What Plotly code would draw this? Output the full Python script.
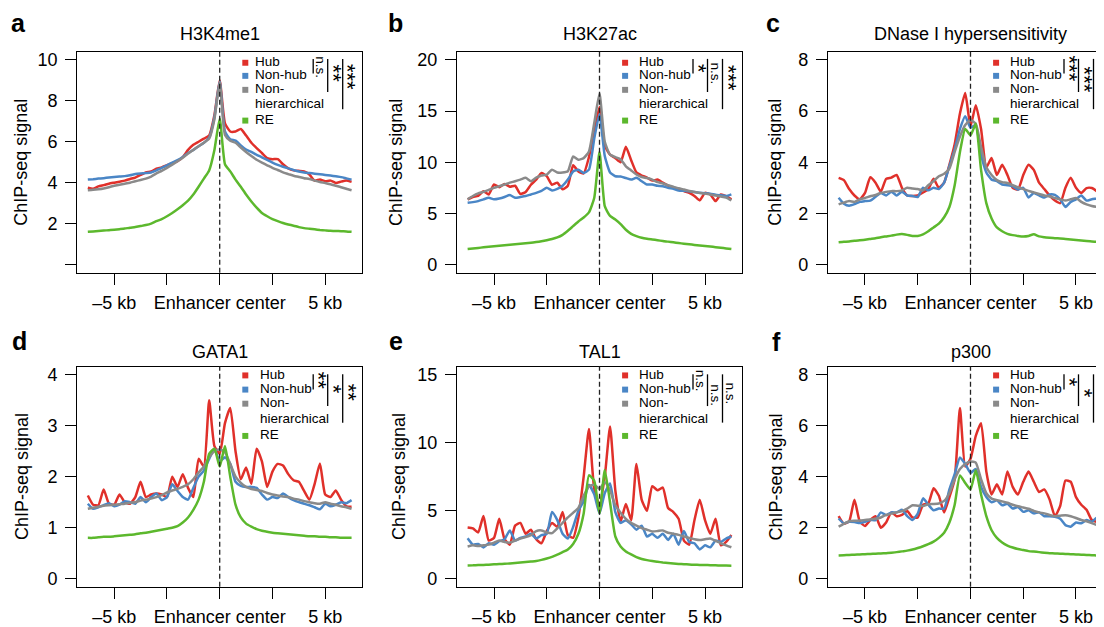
import plotly.graph_objects as go

# page is 1104x627; the html body keeps a default 8px margin, so the figure is drawn 8px in
PAGE_W, PAGE_H = 1104, 627
OFF = 8
W, H = PAGE_W - OFF, PAGE_H - OFF

# ---------------- data ----------------
x_kb = [-6.25, -6.0, -5.75, -5.5, -5.25, -5.0, -4.75, -4.5, -4.25, -4.0,
        -3.75, -3.5, -3.25, -3.0, -2.75, -2.5, -2.25, -2.0, -1.75, -1.5,
        -1.25, -1.0, -0.75, -0.5, -0.25, 0.0, 0.25, 0.5, 0.75, 1.0,
        1.25, 1.5, 1.75, 2.0, 2.25, 2.5, 2.75, 3.0, 3.25, 3.5,
        3.75, 4.0, 4.25, 4.5, 4.75, 5.0, 5.25, 5.5, 5.75, 6.0, 6.25]

series_names = ["Hub", "Non-hub", "Non-hierarchical", "RE"]

# a: H3K4me1
h3k4me1_hub = [3.75, 3.70, 3.82, 3.88, 3.95, 4.00, 4.05, 4.10, 4.18, 4.25, 4.38, 4.50, 4.55, 4.68, 4.75, 4.85, 4.95, 5.05, 5.25, 5.60, 5.85, 6.00, 6.15, 6.30, 7.30,
               9.00,
               6.90, 6.50, 6.50, 6.62, 6.30, 5.95, 5.69, 5.45, 5.20, 5.15, 5.15, 4.90, 4.70, 4.60, 4.58, 4.55, 4.40, 4.10, 4.15, 4.07, 4.10, 3.99, 4.05, 4.10, 4.04]
h3k4me1_nonhub = [4.15, 4.17, 4.20, 4.22, 4.25, 4.28, 4.30, 4.32, 4.36, 4.42, 4.45, 4.47, 4.50, 4.60, 4.72, 4.85, 4.98, 5.10, 5.25, 5.45, 5.60, 5.78, 5.95, 6.20, 7.20,
                  8.95,
                  6.50, 6.12, 6.05, 5.82, 5.62, 5.50, 5.36, 5.24, 5.11, 4.98, 4.87, 4.78, 4.70, 4.62, 4.55, 4.50, 4.47, 4.44, 4.41, 4.38, 4.35, 4.31, 4.27, 4.21, 4.15]
h3k4me1_nonhier = [3.63, 3.65, 3.68, 3.72, 3.78, 3.85, 3.90, 3.95, 4.00, 4.07, 4.13, 4.20, 4.30, 4.45, 4.58, 4.72, 4.88, 5.05, 5.22, 5.42, 5.60, 5.78, 5.95, 6.15, 7.10,
                   8.90,
                   6.33, 6.05, 5.95, 5.72, 5.50, 5.30, 5.12, 4.98, 4.85, 4.72, 4.62, 4.50, 4.42, 4.34, 4.28, 4.22, 4.18, 4.10, 4.03, 3.98, 3.92, 3.85, 3.78, 3.70, 3.63]
h3k4me1_re = [1.60, 1.62, 1.64, 1.66, 1.68, 1.70, 1.73, 1.76, 1.80, 1.83, 1.88, 1.93, 2.00, 2.12, 2.22, 2.36, 2.52, 2.70, 2.90, 3.12, 3.42, 3.80, 4.20, 4.60, 5.60,
              7.14,
              4.90, 4.55, 4.15, 3.80, 3.42, 3.08, 2.78, 2.52, 2.36, 2.22, 2.12, 2.03, 1.96, 1.90, 1.83, 1.78, 1.75, 1.72, 1.69, 1.67, 1.65, 1.64, 1.63, 1.62, 1.60]

# b: H3K27ac
h3k27ac_hub = [6.37, 6.60, 6.70, 7.17, 6.85, 7.82, 7.56, 7.88, 7.60, 7.70, 6.90, 7.10, 7.80, 8.30, 8.95, 8.63, 7.80, 8.00, 7.35, 7.70, 9.70, 9.10, 8.90, 10.50, 13.00,
               15.40,
               11.60, 10.73, 10.40, 10.00, 11.50, 10.20, 9.00, 8.70, 8.50, 8.20, 8.30, 8.00, 7.70, 7.50, 7.33, 7.17, 7.01, 6.70, 6.27, 7.01, 6.85, 6.20, 6.85, 6.69, 6.37]
h3k27ac_nonhub = [6.04, 6.10, 6.20, 6.37, 6.53, 6.37, 6.45, 6.60, 6.79, 6.53, 6.60, 6.69, 6.85, 7.01, 7.20, 7.50, 7.24, 7.40, 7.70, 8.30, 9.10, 9.27, 8.95, 9.27, 12.30,
                  14.70,
                  10.60, 9.00, 8.63, 8.60, 8.45, 8.30, 8.47, 8.14, 7.82, 7.82, 7.70, 7.66, 7.50, 7.40, 7.24, 7.20, 7.17, 7.08, 7.01, 6.96, 6.91, 6.82, 6.76, 6.69, 6.85]
h3k27ac_nonhier = [6.37, 6.70, 6.95, 7.10, 7.30, 7.50, 7.65, 7.82, 8.00, 8.14, 8.30, 8.47, 8.14, 8.50, 8.70, 8.79, 9.27, 9.00, 9.00, 9.11, 10.57, 10.24, 10.40, 11.05, 13.80,
                   16.70,
                   12.00, 10.73, 10.50, 10.30, 9.60, 9.20, 8.80, 8.55, 8.45, 8.30, 8.05, 7.92, 7.75, 7.60, 7.45, 7.33, 7.20, 7.08, 7.00, 6.93, 6.85, 6.75, 6.65, 6.55, 6.27]
h3k27ac_re = [1.52, 1.58, 1.63, 1.68, 1.73, 1.78, 1.83, 1.88, 1.93, 1.98, 2.03, 2.08, 2.13, 2.20, 2.28, 2.38, 2.50, 2.65, 2.90, 3.30, 3.75, 4.20, 4.60, 5.10, 6.50,
              11.00,
              5.70, 4.75, 4.40, 3.95, 3.40, 3.00, 2.78, 2.62, 2.52, 2.45, 2.38, 2.30, 2.24, 2.17, 2.10, 2.04, 1.98, 1.92, 1.87, 1.82, 1.76, 1.70, 1.64, 1.58, 1.52]

# c: DNase I hypersensitivity
dnase_hub = [3.39, 3.30, 2.95, 2.70, 2.55, 2.80, 3.41, 3.20, 2.85, 3.35, 3.40, 3.50, 3.00, 2.70, 2.68, 2.70, 2.82, 2.95, 3.35, 3.00, 3.20, 3.90, 4.70, 5.90, 6.70,
             5.40,
             6.23, 5.30, 3.80, 4.16, 3.50, 3.90, 3.50, 3.00, 2.93, 3.50, 3.90, 3.70, 3.20, 2.95, 2.70, 2.50, 2.40, 3.00, 3.39, 3.00, 2.80, 2.99, 2.99, 2.85, 2.62]
dnase_nonhub = [2.61, 2.38, 2.30, 2.36, 2.45, 2.48, 2.50, 2.65, 2.80, 2.70, 2.85, 2.70, 2.85, 2.70, 2.68, 2.64, 3.00, 2.90, 3.00, 2.95, 3.20, 3.85, 4.50, 5.30, 5.80,
                5.35,
                5.45, 4.30, 3.60, 3.32, 3.26, 3.13, 3.10, 3.06, 2.93, 3.00, 2.62, 2.80, 2.70, 2.62, 2.74, 2.72, 2.55, 2.25, 2.45, 2.55, 2.70, 2.50, 2.55, 2.58, 2.62]
dnase_nonhier = [2.35, 2.42, 2.48, 2.45, 2.55, 2.60, 2.67, 2.72, 2.80, 2.84, 2.87, 2.87, 2.90, 3.00, 2.97, 2.95, 2.90, 3.10, 3.26, 3.45, 3.55, 3.75, 4.40, 5.00, 5.45,
                 5.65,
                 5.50, 4.60, 3.80, 3.50, 3.30, 3.22, 3.19, 3.10, 3.02, 2.95, 2.88, 2.82, 2.76, 2.70, 2.66, 2.60, 2.55, 2.50, 2.55, 2.60, 2.45, 2.35, 2.29, 2.25, 2.22]
dnase_re = [0.87, 0.89, 0.90, 0.93, 0.95, 0.97, 1.00, 1.03, 1.07, 1.10, 1.13, 1.17, 1.19, 1.16, 1.12, 1.12, 1.18, 1.30, 1.45, 1.60, 1.85, 2.25, 3.10, 4.40, 5.30,
            5.05,
            5.50, 3.70, 2.40, 1.80, 1.45, 1.30, 1.20, 1.15, 1.12, 1.10, 1.12, 1.18, 1.10, 1.07, 1.05, 1.03, 1.02, 1.00, 0.98, 0.96, 0.94, 0.92, 0.90, 0.89, 0.88]

# d: GATA1
gata1_hub = [1.63, 1.45, 1.44, 1.75, 1.47, 1.45, 1.65, 1.50, 1.47, 1.60, 1.90, 1.60, 1.65, 1.67, 1.65, 1.60, 2.00, 1.80, 2.05, 1.78, 1.60, 2.35, 2.20, 3.50, 2.60,
             2.45,
             3.05, 3.35, 2.50, 1.95, 2.18, 1.86, 2.55, 2.30, 1.80, 2.10, 2.25, 2.22, 2.05, 1.93, 1.90, 1.72, 1.55, 1.86, 2.26, 1.65, 1.60, 1.73, 1.55, 1.42, 1.41]
gata1_nonhub = [1.47, 1.37, 1.40, 1.44, 1.48, 1.42, 1.45, 1.52, 1.50, 1.47, 1.60, 1.50, 1.60, 1.67, 1.54, 1.60, 1.85, 1.72, 1.60, 1.55, 1.78, 2.00, 2.12, 2.35, 2.55,
                2.30,
                2.38, 2.25, 1.90, 1.82, 1.80, 1.80, 1.78, 1.65, 1.55, 1.60, 1.58, 1.67, 1.60, 1.54, 1.50, 1.47, 1.44, 1.40, 1.36, 1.47, 1.42, 1.45, 1.50, 1.48, 1.54]
gata1_nonhier = [1.37, 1.39, 1.41, 1.43, 1.44, 1.45, 1.46, 1.47, 1.49, 1.50, 1.53, 1.55, 1.57, 1.60, 1.64, 1.69, 1.73, 1.76, 1.80, 1.85, 1.95, 2.08, 2.20, 2.38, 2.50,
                 2.54,
                 2.48, 2.25, 2.00, 1.88, 1.80, 1.76, 1.74, 1.72, 1.68, 1.65, 1.63, 1.61, 1.60, 1.57, 1.55, 1.52, 1.50, 1.48, 1.47, 1.50, 1.47, 1.45, 1.42, 1.40, 1.37]
gata1_re = [0.80, 0.80, 0.81, 0.82, 0.82, 0.83, 0.84, 0.85, 0.86, 0.87, 0.89, 0.90, 0.92, 0.94, 0.96, 0.98, 1.00, 1.03, 1.10, 1.20, 1.35, 1.55, 1.90, 2.45, 2.55,
            2.20,
            2.60, 2.00, 1.45, 1.20, 1.08, 1.02, 0.97, 0.94, 0.92, 0.90, 0.89, 0.88, 0.87, 0.86, 0.85, 0.84, 0.83, 0.83, 0.82, 0.82, 0.81, 0.81, 0.80, 0.80, 0.80]

# e: TAL1
tal1_hub = [3.77, 3.70, 3.40, 4.60, 2.80, 3.00, 4.40, 2.90, 2.50, 3.90, 4.10, 3.30, 3.60, 2.90, 2.60, 3.50, 4.10, 3.80, 4.90, 3.20, 3.00, 4.50, 7.50, 11.00, 6.60,
            5.40,
            7.50, 11.20, 6.50, 4.20, 5.50, 4.30, 8.44, 5.80, 5.00, 6.80, 6.50, 6.70, 5.20, 4.90, 4.40, 2.80, 2.50, 4.30, 5.80, 4.30, 3.30, 4.40, 2.45, 2.70, 3.21]
tal1_nonhub = [2.97, 2.50, 2.55, 2.30, 2.60, 2.50, 2.75, 2.90, 3.55, 2.80, 3.00, 3.10, 3.30, 2.95, 3.20, 3.30, 4.90, 4.30, 3.30, 2.95, 3.80, 5.00, 5.70, 6.90, 6.20,
               4.80,
               6.30, 7.00, 4.90, 4.10, 4.30, 4.00, 3.60, 3.90, 3.10, 3.30, 3.00, 3.30, 2.85, 3.30, 2.50, 3.50, 2.70, 2.60, 2.15, 2.45, 2.30, 2.80, 2.70, 2.95, 3.10]
tal1_nonhier = [2.36, 2.45, 2.40, 2.45, 2.50, 2.65, 2.80, 2.70, 2.65, 2.80, 2.95, 3.05, 3.20, 3.50, 3.55, 3.40, 3.35, 3.70, 4.10, 4.50, 4.85, 5.20, 6.10, 6.80, 6.90,
                6.60,
                7.10, 6.50, 5.40, 4.85, 4.40, 4.10, 3.90, 3.72, 3.60, 3.47, 3.50, 3.55, 3.38, 3.30, 3.22, 3.10, 3.00, 2.90, 2.84, 2.90, 2.95, 2.78, 2.60, 2.45, 2.31]
tal1_re = [0.97, 0.98, 1.00, 1.01, 1.03, 1.05, 1.07, 1.09, 1.12, 1.15, 1.18, 1.22, 1.26, 1.30, 1.38, 1.48, 1.60, 1.76, 1.95, 2.15, 2.55, 3.30, 4.80, 7.60, 7.20,
           4.80,
           8.00, 5.60, 3.10, 2.36, 2.00, 1.78, 1.58, 1.45, 1.36, 1.29, 1.24, 1.19, 1.15, 1.11, 1.08, 1.06, 1.04, 1.02, 1.01, 1.00, 0.99, 0.98, 0.97, 0.96, 0.95]

# f: p300
p300_hub = [2.45, 2.15, 2.25, 3.10, 2.25, 2.07, 2.30, 2.45, 2.00, 2.20, 2.60, 2.45, 2.50, 2.65, 2.40, 2.40, 2.90, 2.95, 3.55, 3.25, 2.60, 3.20, 3.90, 6.70, 4.40,
            4.70,
            5.60, 6.10, 4.20, 3.30, 3.70, 3.30, 4.20, 3.60, 3.30, 3.80, 4.20, 3.80, 3.40, 3.50, 3.10, 2.45, 2.85, 3.85, 3.80, 3.20, 2.90, 2.70, 2.30, 2.23, 2.23]
p300_nonhub = [2.36, 2.17, 2.23, 2.22, 2.18, 2.23, 2.30, 2.30, 2.60, 2.49, 2.60, 2.60, 2.70, 2.45, 2.30, 2.55, 3.15, 2.90, 2.68, 2.75, 2.75, 3.50, 4.10, 4.75, 4.50,
               4.15,
               4.30, 3.60, 3.20, 3.00, 3.07, 2.88, 2.94, 2.75, 2.81, 2.62, 2.68, 2.56, 2.60, 2.45, 2.45, 2.43, 2.35, 2.10, 2.04, 2.20, 2.17, 2.30, 2.23, 2.40, 2.30]
p300_nonhier = [2.04, 2.15, 2.25, 2.27, 2.28, 2.30, 2.32, 2.35, 2.40, 2.50, 2.55, 2.60, 2.65, 2.75, 2.88, 2.86, 2.85, 2.92, 2.93, 2.95, 3.05, 3.35, 3.90, 4.30, 4.50,
                4.60,
                4.55, 3.90, 3.35, 3.14, 3.08, 3.03, 2.98, 2.90, 2.84, 2.79, 2.74, 2.66, 2.60, 2.56, 2.50, 2.45, 2.47, 2.49, 2.45, 2.38, 2.30, 2.25, 2.18, 2.10, 2.10]
p300_re = [0.91, 0.92, 0.93, 0.94, 0.95, 0.96, 0.97, 0.98, 0.99, 1.00, 1.02, 1.04, 1.07, 1.10, 1.14, 1.20, 1.27, 1.35, 1.45, 1.60, 1.80, 2.20, 2.90, 4.05, 3.75,
           3.50,
           4.25, 3.30, 2.45, 1.90, 1.60, 1.42, 1.30, 1.22, 1.16, 1.12, 1.08, 1.06, 1.04, 1.02, 1.00, 0.99, 0.98, 0.97, 0.96, 0.95, 0.94, 0.93, 0.92, 0.91, 0.89]

panel_letters = ["a", "b", "c", "d", "e", "f"]
panel_titles = ["H3K4me1", "H3K27ac", "DNase I hypersensitivity", "GATA1", "TAL1", "p300"]
panel_series = [
    [h3k4me1_hub, h3k4me1_nonhub, h3k4me1_nonhier, h3k4me1_re],
    [h3k27ac_hub, h3k27ac_nonhub, h3k27ac_nonhier, h3k27ac_re],
    [dnase_hub, dnase_nonhub, dnase_nonhier, dnase_re],
    [gata1_hub, gata1_nonhub, gata1_nonhier, gata1_re],
    [tal1_hub, tal1_nonhub, tal1_nonhier, tal1_re],
    [p300_hub, p300_nonhub, p300_nonhier, p300_re],
]
y_max = [10, 20, 8, 4, 15, 8]
y_tickvals = [[0, 2, 4, 6, 8, 10], [0, 5, 10, 15, 20], [0, 2, 4, 6, 8],
              [0, 1, 2, 3, 4], [0, 5, 10, 15], [0, 2, 4, 6, 8]]
y_ticktext = [["", "2", "4", "6", "8", "10"], ["0", "5", "10", "15", "20"], ["0", "2", "4", "6", "8"],
              ["0", "1", "2", "3", "4"], ["0", "5", "10", "15"], ["0", "2", "4", "6", "8"]]
x_tickvals = [-5, -2.5, 0, 2.5, 5]
x_ticktext = ["\u20135 kb", "", "Enhancer center", "", "5 kb"]
significance = [["n.s.", "**", "***"], ["*", "n.s.", "***"], ["***", "***", "***"],
                ["**", "*", "**"], ["n.s.", "n.s.", "n.s."], ["*", "*", "***"]]
legend_lines = ["Hub", "Non-hub", "Non-", "hierarchical", "RE"]

for s in panel_series:
    for arr in s:
        assert len(arr) == len(x_kb), len(arr)

# ---------------- styling / geometry (page pixels) ----------------
colors = ["#E0302A", "#4A86C6", "#8A8A8A", "#5CB82D"]
FONT = "Liberation Sans, Arial, Helvetica, sans-serif"
KB_PX = 21.1
col_cx = [219.7, 599.5, 970.5]
row_top = [51.0, 368.5]
row_bot = [273.9, 590.5]
letter_pos = [(18.8, 31.0), (395.8, 31.0), (772.7, 31.0), (19.3, 351.7), (395.8, 351.7), (776.7, 352.0)]
ytitle_x = [21.5, 396.7, 775.5, 21.3, 398.3, 775.8]
title_y = [33.3, 353.3]
legend_y = [[61.0, 74.2, 88.3, 103.7, 119.3], [376.2, 390.5, 404.7, 420.5, 437.2]]
legend_text_dx = [33.6, 37.4, 37.8, 38.0, 37.6, 37.8]
bracket_dx = [93.5, 108.0, 123.0]
bracket_y0 = [58.3, 376.3]
bracket_y1 = [[73.0, 91.7, 109.0], [391.7, 408.3, 425.0]]
sig_y = [[66.7, 73.3, 76.7], [68.0, 73.3, 77.5], [67.5, 79.2, 83.3],
         [382.5, 391.0, 395.0], [382.5, 397.5, 395.8], [384.3, 395.0, 400.0]]


def PX(x):
    return (x - OFF) / W


def PY(y):
    return 1 - (y - OFF) / H


fig = go.Figure()
annotations = []
shapes = []
layout_axes = {}

for i in range(6):
    r, c = divmod(i, 3)
    n = "" if i == 0 else str(i + 1)
    cx = col_cx[c]
    left = cx - 6.75 * KB_PX
    right = min(cx + 6.75 * KB_PX, PAGE_W)
    xr = [-6.75, (right - cx) / KB_PX]
    ymx = y_max[i]

    for k, arr in enumerate(panel_series[i]):
        fig.add_trace(go.Scatter(
            x=x_kb, y=arr, mode="lines", name=series_names[k], showlegend=False,
            line=dict(color=colors[k], width=2.5, shape="spline", smoothing=0.5),
            xaxis="x" + n, yaxis="y" + n, hoverinfo="skip"))

    common = dict(showgrid=False, zeroline=False, showline=True, linecolor="black", linewidth=1.3,
                  ticks="outside", ticklen=11, tickwidth=1.3, tickcolor="black",
                  tickfont=dict(family=FONT, size=18, color="black"))
    layout_axes["xaxis" + n] = dict(common, domain=[max(PX(left), 0), min(PX(right), 1)], range=xr,
                                    anchor="y" + n, tickmode="array", tickvals=x_tickvals,
                                    ticktext=x_ticktext, mirror=True, ticklabelstandoff=2)
    layout_axes["yaxis" + n] = dict(common, domain=[PY(row_bot[r]), PY(row_top[r])],
                                    range=[-0.04 * ymx, 1.04 * ymx], anchor="x" + n,
                                    tickmode="array", tickvals=y_tickvals[i], ticktext=y_ticktext[i],
                                    mirror=(c != 2), ticklabelstandoff=4)

    # dashed enhancer-center line
    shapes.append(dict(type="line", xref="x" + n, yref="y" + n + " domain", x0=0, x1=0, y0=0, y1=1,
                       line=dict(color="#222222", width=1.3, dash="5px,3px"), layer="above"))

    # panel letter
    lx, lb = letter_pos[i]
    annotations.append(dict(text="<b>%s</b>" % panel_letters[i], x=PX(lx), y=PY(lb - 0.3465 * 25),
                            xref="paper", yref="paper", xanchor="center", yanchor="middle",
                            showarrow=False, font=dict(family=FONT, size=25, color="black")))
    # title
    annotations.append(dict(text=panel_titles[i], x=PX(cx), y=PY(title_y[r]), xref="paper", yref="paper",
                            xanchor="center", yanchor="middle", showarrow=False,
                            font=dict(family=FONT, size=18, color="black")))
    # y title
    annotations.append(dict(text="ChIP-seq signal", x=PX(ytitle_x[i]), y=PY((row_top[r] + row_bot[r]) / 2),
                            xref="paper", yref="paper", xanchor="center", yanchor="middle",
                            textangle=-90, showarrow=False, font=dict(family=FONT, size=18, color="black")))
    # legend
    for j, txt in enumerate(legend_lines):
        annotations.append(dict(text=txt, x=PX(cx + legend_text_dx[i]), y=PY(legend_y[r][j]),
                                xref="paper", yref="paper", xanchor="left", yanchor="middle",
                                showarrow=False, font=dict(family=FONT, size=13.5, color="black")))
    for k, j in enumerate([0, 1, 2, 4]):
        sy = legend_y[r][j] + 1.2
        sx = cx + 25.6
        shapes.append(dict(type="rect", xref="paper", yref="paper",
                           x0=PX(sx - 3), x1=PX(sx + 3), y0=PY(sy + 3), y1=PY(sy - 3),
                           fillcolor=colors[k], line=dict(width=0)))
    # significance brackets
    for j, lab in enumerate(significance[i]):
        bx = cx + bracket_dx[j]
        shapes.append(dict(type="line", xref="paper", yref="paper", x0=PX(bx), x1=PX(bx),
                           y0=PY(bracket_y0[r]), y1=PY(bracket_y1[r][j]),
                           line=dict(color="black", width=1.3)))
        if lab == "n.s.":
            ax, fs = bx + 7.7, 13.5
        else:
            ax, fs = bx + 5.5, 22
        annotations.append(dict(text=lab, x=PX(ax), y=PY(sig_y[i][j]), xref="paper", yref="paper",
                                xanchor="center", yanchor="middle", textangle=90, showarrow=False,
                                font=dict(family=FONT, size=fs, color="black")))

fig.update_layout(width=W, height=H, autosize=False, margin=dict(l=0, r=0, t=0, b=0),
                  paper_bgcolor="white", plot_bgcolor="white",
                  font=dict(family=FONT, color="black"),
                  annotations=annotations, shapes=shapes, **layout_axes)

fig.write_html("out.html")
